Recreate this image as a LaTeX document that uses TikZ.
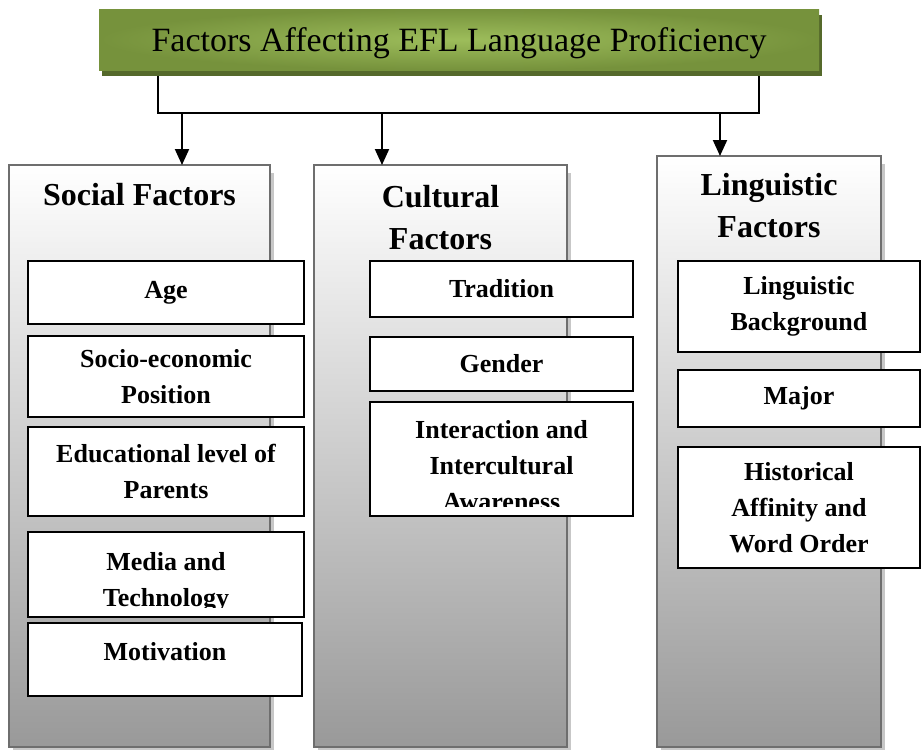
\documentclass[tikz,border=0pt]{standalone}
\usepackage{fontspec}
\setmainfont{Liberation Serif}
\usetikzlibrary{arrows.meta,positioning,shadows}
\definecolor{oliveedge}{HTML}{76923C}
\definecolor{olivemid}{HTML}{9DBD5B}
\definecolor{oliveshadow}{HTML}{55692B}
\definecolor{colborder}{HTML}{6E6E6E}
\newcommand{\titlefont}{\fontsize{34}{40}\selectfont}
\newcommand{\headfont}{\bfseries\fontsize{32}{42}\selectfont}
\newcommand{\factorfont}{\bfseries\fontsize{26}{36}\selectfont}
\tikzset{
    %Define standard arrow tip
    >={Triangle[width=14pt,length=16pt]},
    %Define style for the heading box
    titlebox/.style={
           rectangle,
           inner sep=0pt, outer sep=0pt,
           anchor=north west,
           inner color=olivemid, outer color=oliveedge,
           drop shadow={shadow xshift=3pt, shadow yshift=-6pt,
                        fill=oliveshadow, opacity=1},
           text depth=0pt,
           font=\titlefont},
    %Define style for the three columns
    column/.style={
           rectangle,
           inner sep=0pt, outer sep=0pt,
           anchor=north west,
           draw=colborder, line width=2pt,
           top color=white, bottom color=black!40,
           drop shadow={shadow xshift=4pt, shadow yshift=-8pt,
                        fill=black!22, opacity=1}},
    head/.style={
           inner sep=0pt,
           align=center,
           font=\headfont},
    %Define style for the factor boxes
    factor/.style={
           rectangle,
           inner sep=0pt, outer sep=0pt,
           anchor=north west,
           draw=black, line width=2pt,
           fill=white,
           align=center,
           font=\factorfont},
    % Define arrow style
    pil/.style={
           ->,
           line width=2pt},
    bar/.style={
           line width=2pt}
}
\begin{document}
\begin{tikzpicture}[x=1pt, y=-1pt]
\useasboundingbox (0,0) rectangle (922,750);

%heading
\node[titlebox, minimum width=720pt, minimum height=61pt] (title) at (99,9)
  {Factors Affecting EFL Language Proficiency};

%columns
\node[column, minimum width=261pt, minimum height=582pt] (social) at (9,165) {};
\node[column, minimum width=253pt, minimum height=582pt] (cultural) at (314,165) {};
\node[column, minimum width=224pt, minimum height=591pt] (linguistic) at (657,156) {};

\node[head, below=18pt of social.north] (socialhead) {Social Factors};
\node[head, below=20pt of cultural.north] (culturalhead) {Cultural\\Factors};
\node[head, below=17pt of linguistic.north] (linguistichead) {Linguistic\\Factors};

%social factors
\node[factor, minimum width=276pt, minimum height=63pt] (age) at (28,261) {Age};
\node[factor, minimum width=276pt, minimum height=81pt] (socio) at (28,336)
  {Socio-economic\\Position};
\node[factor, minimum width=276pt, minimum height=89pt] (educ) at (28,427)
  {Educational level of\\Parents};
\node[factor, minimum width=276pt, minimum height=85pt] (media) at (28,532) {};
\begin{scope}
  \clip (media.north west) rectangle ([yshift=10pt]media.south east);
  \node[head, font=\factorfont, below=20pt of media.north] (mediatext)
    {Media and\\Technology};
\end{scope}
\node[factor, minimum width=274pt, minimum height=73pt, text depth=16pt] (motiv) at (28,623)
  {Motivation};

%cultural factors
\node[factor, minimum width=263pt, minimum height=56pt] (trad) at (370,261) {Tradition};
\node[factor, minimum width=263pt, minimum height=54pt] (gender) at (370,337) {Gender};
\node[factor, minimum width=263pt, minimum height=114pt] (interact) at (370,402) {};
\begin{scope}
  \clip (interact.north west) rectangle ([yshift=10pt]interact.south east);
  \node[head, font=\factorfont, below=18pt of interact.north] (interacttext)
    {Interaction and\\Intercultural\\Awareness};
\end{scope}

%linguistic factors
\node[factor, minimum width=242pt, minimum height=91pt] (lingback) at (678,261)
  {Linguistic\\Background};
\node[factor, minimum width=242pt, minimum height=57pt] (major) at (678,370) {Major};
\node[factor, minimum width=242pt, minimum height=121pt] (hist) at (678,447)
  {Historical\\Affinity and\\Word Order};

%connectors
\coordinate (barL) at (158,113);
\coordinate (barR) at (759,113);
\draw[bar] ([yshift=-6pt]title.south -| barL) -- (barL) -- (barR)
  -- ([yshift=-6pt]title.south -| barR);

\coordinate (tipS) at (182,113);
\coordinate (tipC) at (382,113);
\coordinate (tipL) at (720,113);
\draw[pil] (tipS) -- (tipS |- social.north);
\draw[pil] (tipC) -- (tipC |- cultural.north);
\draw[pil] (tipL) -- (tipL |- linguistic.north);

\end{tikzpicture}
\end{document}
